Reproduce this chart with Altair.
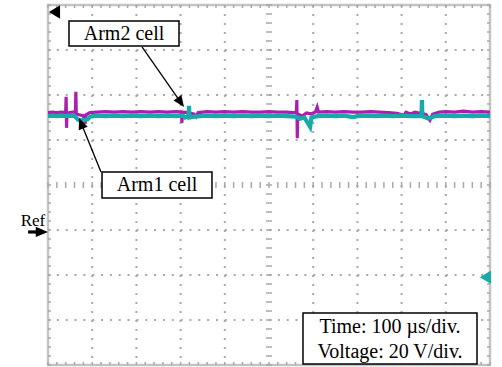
import altair as alt
import numpy as np
import pandas as pd

# ---- trace data (x in time divisions, y in voltage divisions) ----
mag_x = [0.00, 0.10, 0.20, 0.30, 0.40, 0.41, 0.42, 0.43, 0.55, 0.62, 0.63, 0.64, 0.70, 0.80, 0.84, 0.86,
         0.95, 1.10, 1.30, 1.50, 1.70, 1.90, 2.10, 2.30, 2.50, 2.70, 2.90, 3.02, 3.03, 3.04, 3.15, 3.30,
         3.35, 3.40, 3.60, 3.80, 4.00, 4.20, 4.40, 4.60, 4.80, 5.00, 5.20, 5.40, 5.55, 5.62, 5.63, 5.64,
         5.65, 5.75, 5.85, 5.95, 6.05, 6.09, 6.12, 6.30, 6.50, 6.70, 6.90, 7.10, 7.30, 7.50, 7.70, 7.90,
         8.05, 8.10, 8.20, 8.30, 8.40, 8.55, 8.64, 8.70, 8.85, 9.00, 9.20, 9.40, 9.60, 9.80, 10.0]
mag_y = [1.61, 1.62, 1.61, 1.62, 1.61, 1.96, 1.27, 1.60, 1.62, 1.62, 2.07, 1.58, 1.56, 1.54, 1.36, 1.56,
         1.61, 1.62, 1.63, 1.62, 1.63, 1.62, 1.63, 1.62, 1.63, 1.62, 1.63, 1.62, 1.38, 1.62, 1.61, 1.58,
         1.52, 1.61, 1.63, 1.62, 1.63, 1.62, 1.63, 1.62, 1.62, 1.63, 1.62, 1.62, 1.61, 1.62, 1.89, 1.04,
         1.58, 1.53, 1.60, 1.58, 1.62, 1.73, 1.62, 1.63, 1.62, 1.63, 1.62, 1.62, 1.63, 1.62, 1.61, 1.59,
         1.55, 1.62, 1.58, 1.62, 1.60, 1.57, 1.44, 1.57, 1.62, 1.63, 1.62, 1.64, 1.62, 1.63, 1.62]

cyan_x = [0.00, 0.10, 0.20, 0.30, 0.40, 0.50, 0.60, 0.68, 0.80, 0.90, 0.95, 1.10, 1.30, 1.50, 1.70, 1.90,
          2.10, 2.30, 2.50, 2.70, 2.90, 3.05, 3.10, 3.18, 3.19, 3.20, 3.30, 3.45, 3.60, 3.80, 4.00, 4.20,
          4.40, 4.60, 4.80, 5.00, 5.20, 5.40, 5.60, 5.70, 5.80, 5.93, 5.96, 6.10, 6.30, 6.50, 6.70, 6.90,
          7.00, 7.20, 7.40, 7.60, 7.80, 8.00, 8.20, 8.45, 8.46, 8.47, 8.60, 8.75, 9.00, 9.20, 9.40, 9.60,
          9.80, 10.0]
cyan_y = [1.53, 1.54, 1.53, 1.54, 1.53, 1.54, 1.53, 1.45, 1.44, 1.46, 1.52, 1.54, 1.53, 1.54, 1.53, 1.54,
          1.53, 1.54, 1.53, 1.54, 1.53, 1.54, 1.50, 1.54, 1.76, 1.50, 1.52, 1.53, 1.54, 1.53, 1.54, 1.53,
          1.54, 1.53, 1.54, 1.53, 1.54, 1.53, 1.52, 1.47, 1.50, 1.29, 1.50, 1.53, 1.54, 1.53, 1.54, 1.51,
          1.53, 1.54, 1.53, 1.54, 1.53, 1.54, 1.53, 1.53, 1.89, 1.53, 1.48, 1.53, 1.54, 1.53, 1.54, 1.53,
          1.54, 1.53]

# ---- screen grid (divisions) ----
major_x = [1, 2, 3, 4, 6, 7, 8, 9]
major_y = [-3, -2, -1, 1, 2, 3]
minor_x = [round(v, 2) for v in np.arange(0, 10.001, 0.2)]
minor_y = [round(v, 2) for v in np.arange(-4, 4.001, 0.2)]

# ---- annotations ----
label_texts = ["Arm2 cell", "Arm1 cell", "Time: 100 \u00b5s/div.", "Voltage: 20 V/div."]
label_x = [1.72, 2.466, 7.738, 7.738]
label_y = [3.36, 0.0, -3.156, -3.711]
box_x1 = [0.475, 1.222, 5.769]
box_x2 = [2.964, 3.710, 9.706]
box_y1 = [3.644, 0.289, -2.844]
box_y2 = [3.089, -0.289, -3.978]

XS = alt.Scale(domain=[0, 10], nice=False, zero=False)
YS = alt.Scale(domain=[-4, 4], nice=False, zero=False)


def X(f):
    return alt.X(f, type="quantitative", scale=XS, axis=None)


def Y(f):
    return alt.Y(f, type="quantitative", scale=YS, axis=None)


GRID = "#a8a8a8"

vgrid = alt.Chart(pd.DataFrame({"x": major_x, "y": [4] * len(major_x), "y2": [-4] * len(major_x)})).mark_rule(
    color=GRID, strokeWidth=2, strokeDash=[2, 7]).encode(x=X("x"), y=Y("y"), y2="y2")
hgrid = alt.Chart(pd.DataFrame({"y": major_y, "x": [0] * len(major_y), "x2": [10] * len(major_y)})).mark_rule(
    color=GRID, strokeWidth=2, strokeDash=[2, 6.84]).encode(x=X("x"), x2="x2", y=Y("y"))

hx = 0.068  # ~3px in x divisions
hy = 0.067  # ~3px in y divisions
tick_rows = []
for v in minor_x:
    tick_rows.append(dict(x=v, x2=v, y=-hy, y2=hy))          # centre horizontal line ticks
    tick_rows.append(dict(x=v, x2=v, y=4, y2=4 - hy))        # top border
    tick_rows.append(dict(x=v, x2=v, y=-4, y2=-4 + hy))      # bottom border
for v in minor_y:
    tick_rows.append(dict(x=5 - hx, x2=5 + hx, y=v, y2=v))   # centre vertical line ticks
    tick_rows.append(dict(x=0, x2=hx, y=v, y2=v))            # left border
    tick_rows.append(dict(x=10, x2=10 - hx, y=v, y2=v))      # right border
ticks = alt.Chart(pd.DataFrame(tick_rows)).mark_rule(color=GRID, strokeWidth=1.5).encode(
    x=X("x"), x2="x2", y=Y("y"), y2="y2")

mag = alt.Chart(pd.DataFrame({"t": mag_x, "v": mag_y})).mark_line(
    color="#ab1fae", strokeWidth=3.2, interpolate="linear").encode(x=X("t"), y=Y("v"), order="t:Q")
cyan = alt.Chart(pd.DataFrame({"t": cyan_x, "v": cyan_y})).mark_line(
    color="#17aaa9", strokeWidth=4.2, interpolate="linear").encode(x=X("t"), y=Y("v"), order="t:Q")

boxes = alt.Chart(pd.DataFrame({"x": box_x1, "x2": box_x2, "y": box_y1, "y2": box_y2})).mark_rect(
    fill="white", stroke="black", strokeWidth=1.5).encode(x=X("x"), x2="x2", y=Y("y"), y2="y2")

labels = alt.Chart(pd.DataFrame({"x": label_x, "y": label_y, "t": label_texts})).mark_text(
    font="Liberation Serif", fontSize=20, color="black", align="center", baseline="middle").encode(
    x=X("x"), y=Y("y"), text="t:N")

ref_text = alt.Chart(pd.DataFrame({"x": [-0.34], "y": [-0.80], "t": ["Ref"]})).mark_text(
    font="Liberation Serif", fontSize=17, color="black", align="center", baseline="middle").encode(
    x=X("x"), y=Y("y"), text="t:N")

# arrow shafts
shafts = pd.DataFrame({
    "x": [2.127, 1.199, -0.45, 0.22, 10.0],
    "x2": [3.0, 0.73, -0.15, 0.10, 9.90],
    "y": [3.067, 0.289, -1.044, 3.844, -2.05],
    "y2": [1.84, 1.42, -1.044, 3.844, -2.05],
    "w": [1.3, 1.3, 3.2, 3, 3.5],
    "c": ["black", "black", "black", "black", "#17aaa9"],
})
shaft_layers = []
for i, r in shafts.iterrows():
    shaft_layers.append(alt.Chart(shafts.iloc[[i]]).mark_rule(color=r["c"], strokeWidth=r["w"]).encode(
        x=X("x"), x2="x2", y=Y("y"), y2="y2"))

HEAD = "M0,0 L-0.42,1 L0.42,1 Z"
WIDE = "M0,0 L-0.6,1 L0.6,1 Z"
heads = pd.DataFrame({
    "x": [3.077, 0.701, 0.0, 0.02, 9.77],
    "y": [1.733, 1.489, -1.044, 3.844, -2.05],
    "a": [145, 338, 90, 270, 270],
    "s": [520, 520, 600, 500, 500],
    "c": ["black", "black", "black", "black", "#17aaa9"],
    "k": ["n", "n", "n", "w", "w"],
})


def head_chart(df, shape):
    return alt.Chart(df).mark_point(shape=shape, filled=True, opacity=1, strokeWidth=0).encode(
        x=X("x"), y=Y("y"),
        angle=alt.Angle("a:Q", scale=None),
        size=alt.Size("s:Q", scale=None, legend=None),
        color=alt.Color("c:N", scale=None, legend=None),
    )


head_n = head_chart(heads[heads.k == "n"], HEAD)
head_w = head_chart(heads[heads.k == "w"], WIDE)

chart = alt.layer(vgrid, hgrid, ticks, mag, cyan, *shaft_layers, head_n, head_w, boxes, labels, ref_text).properties(
    width=442, height=360,
    autosize=alt.AutoSizeParams(type="none"),
    padding={"left": 48, "top": 5, "right": 12, "bottom": 2},
    background="white",
).configure_view(stroke="#c4c4c4", strokeWidth=2.5)

chart.save("out.html", embed_options={"renderer": "svg", "actions": False})
